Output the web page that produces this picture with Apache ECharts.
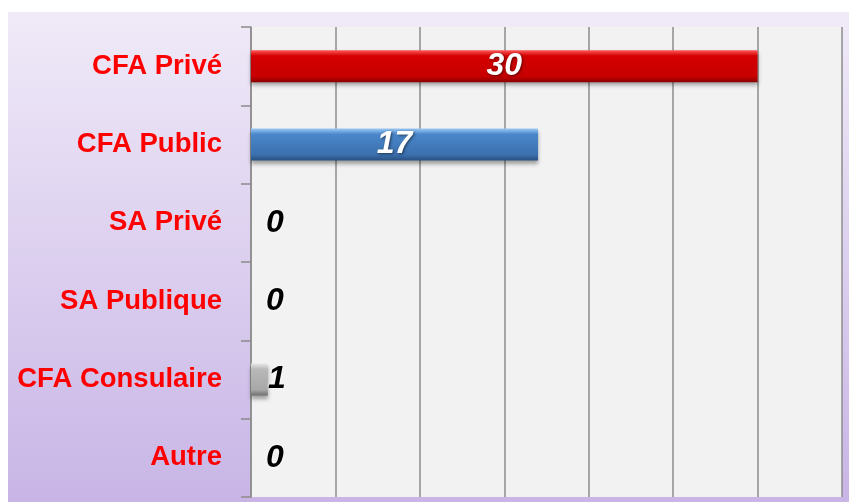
<!DOCTYPE html>
<html>
<head>
<meta charset="utf-8">
<script src="https://cdn.jsdelivr.net/npm/echarts@6/dist/echarts.min.js"></script>
<style>
  html, body { margin: 0; padding: 0; background: #ffffff; }
  #chart { position: absolute; left: 8px; top: 12px; width: 841px; height: 490px; }
</style>
</head>
<body>
<div id="chart"></div>
<script>
// categories, top to bottom
const categories = ['CFA Privé', 'CFA Public', 'SA Privé', 'SA Publique', 'CFA Consulaire', 'Autre'];
const values = [30, 17, 0, 0, 1, 0];

// axis
const axisMin = 0;
const axisMax = 35;
const axisStep = 5;

// bar colours (top highlight, body, body, bottom shade)
const barColors = [
    ['#ff5a5a', '#d40000', '#c80000', '#8a0000'],
    ['#9cc9f5', '#4a87cb', '#3b70ae', '#284f80'],
    ['#e8e8e8', '#b8b8b8', '#a8a8a8', '#707070'],
    ['#e8e8e8', '#b8b8b8', '#a8a8a8', '#707070'],
    ['#e8e8e8', '#b8b8b8', '#a8a8a8', '#707070'],
    ['#e8e8e8', '#b8b8b8', '#a8a8a8', '#707070']
];

const chart = echarts.init(document.getElementById('chart'), null, { renderer: 'canvas' });

function bevel(c) {
    return new echarts.graphic.LinearGradient(0, 0, 0, 1, [
        { offset: 0, color: c[0] },
        { offset: 0.18, color: c[1] },
        { offset: 0.82, color: c[2] },
        { offset: 1, color: c[3] }
    ]);
}

// big values inside in white, small ones outside in black
const barData = values.map((v, i) => {
    const inside = v >= 5;
    return {
        value: v,
        itemStyle: { color: bevel(barColors[i]) },
        label: inside ? {
            position: 'inside',
            color: '#ffffff',
            textShadowColor: 'rgba(0,0,0,0.55)',
            textShadowBlur: 3,
            textShadowOffsetX: 1,
            textShadowOffsetY: 1
        } : {
            position: 'right',
            distance: v === 0 ? 15 : 0,
            color: '#000000',
            textShadowColor: 'rgba(255,255,255,0.9)',
            textShadowBlur: 3
        }
    };
});

const option = {
    animation: false,
    backgroundColor: new echarts.graphic.LinearGradient(0, 0, 0, 1, [
        { offset: 0, color: '#f0eaf8' },
        { offset: 1, color: '#c8b5e6' }
    ]),
    grid: {
        left: 243,
        right: 7,
        top: 15,
        bottom: 5,
        show: true,
        backgroundColor: '#f2f2f2',
        borderWidth: 0
    },
    xAxis: {
        type: 'value',
        min: axisMin,
        max: axisMax,
        interval: axisStep,
        axisLabel: { show: false },
        axisLine: { show: false },
        axisTick: { show: false },
        splitLine: { lineStyle: { color: '#8c8c8c', width: 1.5 } }
    },
    yAxis: {
        type: 'category',
        data: categories,
        inverse: true,
        axisLine: { lineStyle: { color: '#8c8c8c', width: 1.5 } },
        axisTick: { show: true, inside: false, length: 10, lineStyle: { color: '#8c8c8c', width: 1.5 } },
        axisLabel: {
            margin: 29,
            color: '#ff0000',
            fontSize: 27.5,
            fontWeight: 'bold',
            fontFamily: 'Liberation Sans, Arial, sans-serif'
        }
    },
    series: [{
        type: 'bar',
        data: barData,
        barWidth: 32,
        itemStyle: {
            shadowColor: 'rgba(0,0,0,0.35)',
            shadowBlur: 4,
            shadowOffsetY: 3
        },
        label: {
            show: true,
            fontSize: 32,
            fontWeight: 'bold',
            fontStyle: 'italic',
            fontFamily: 'Liberation Sans, Arial, sans-serif'
        }
    }]
};

chart.setOption(option);
window.addEventListener('resize', () => chart.resize());
</script>
</body>
</html>
